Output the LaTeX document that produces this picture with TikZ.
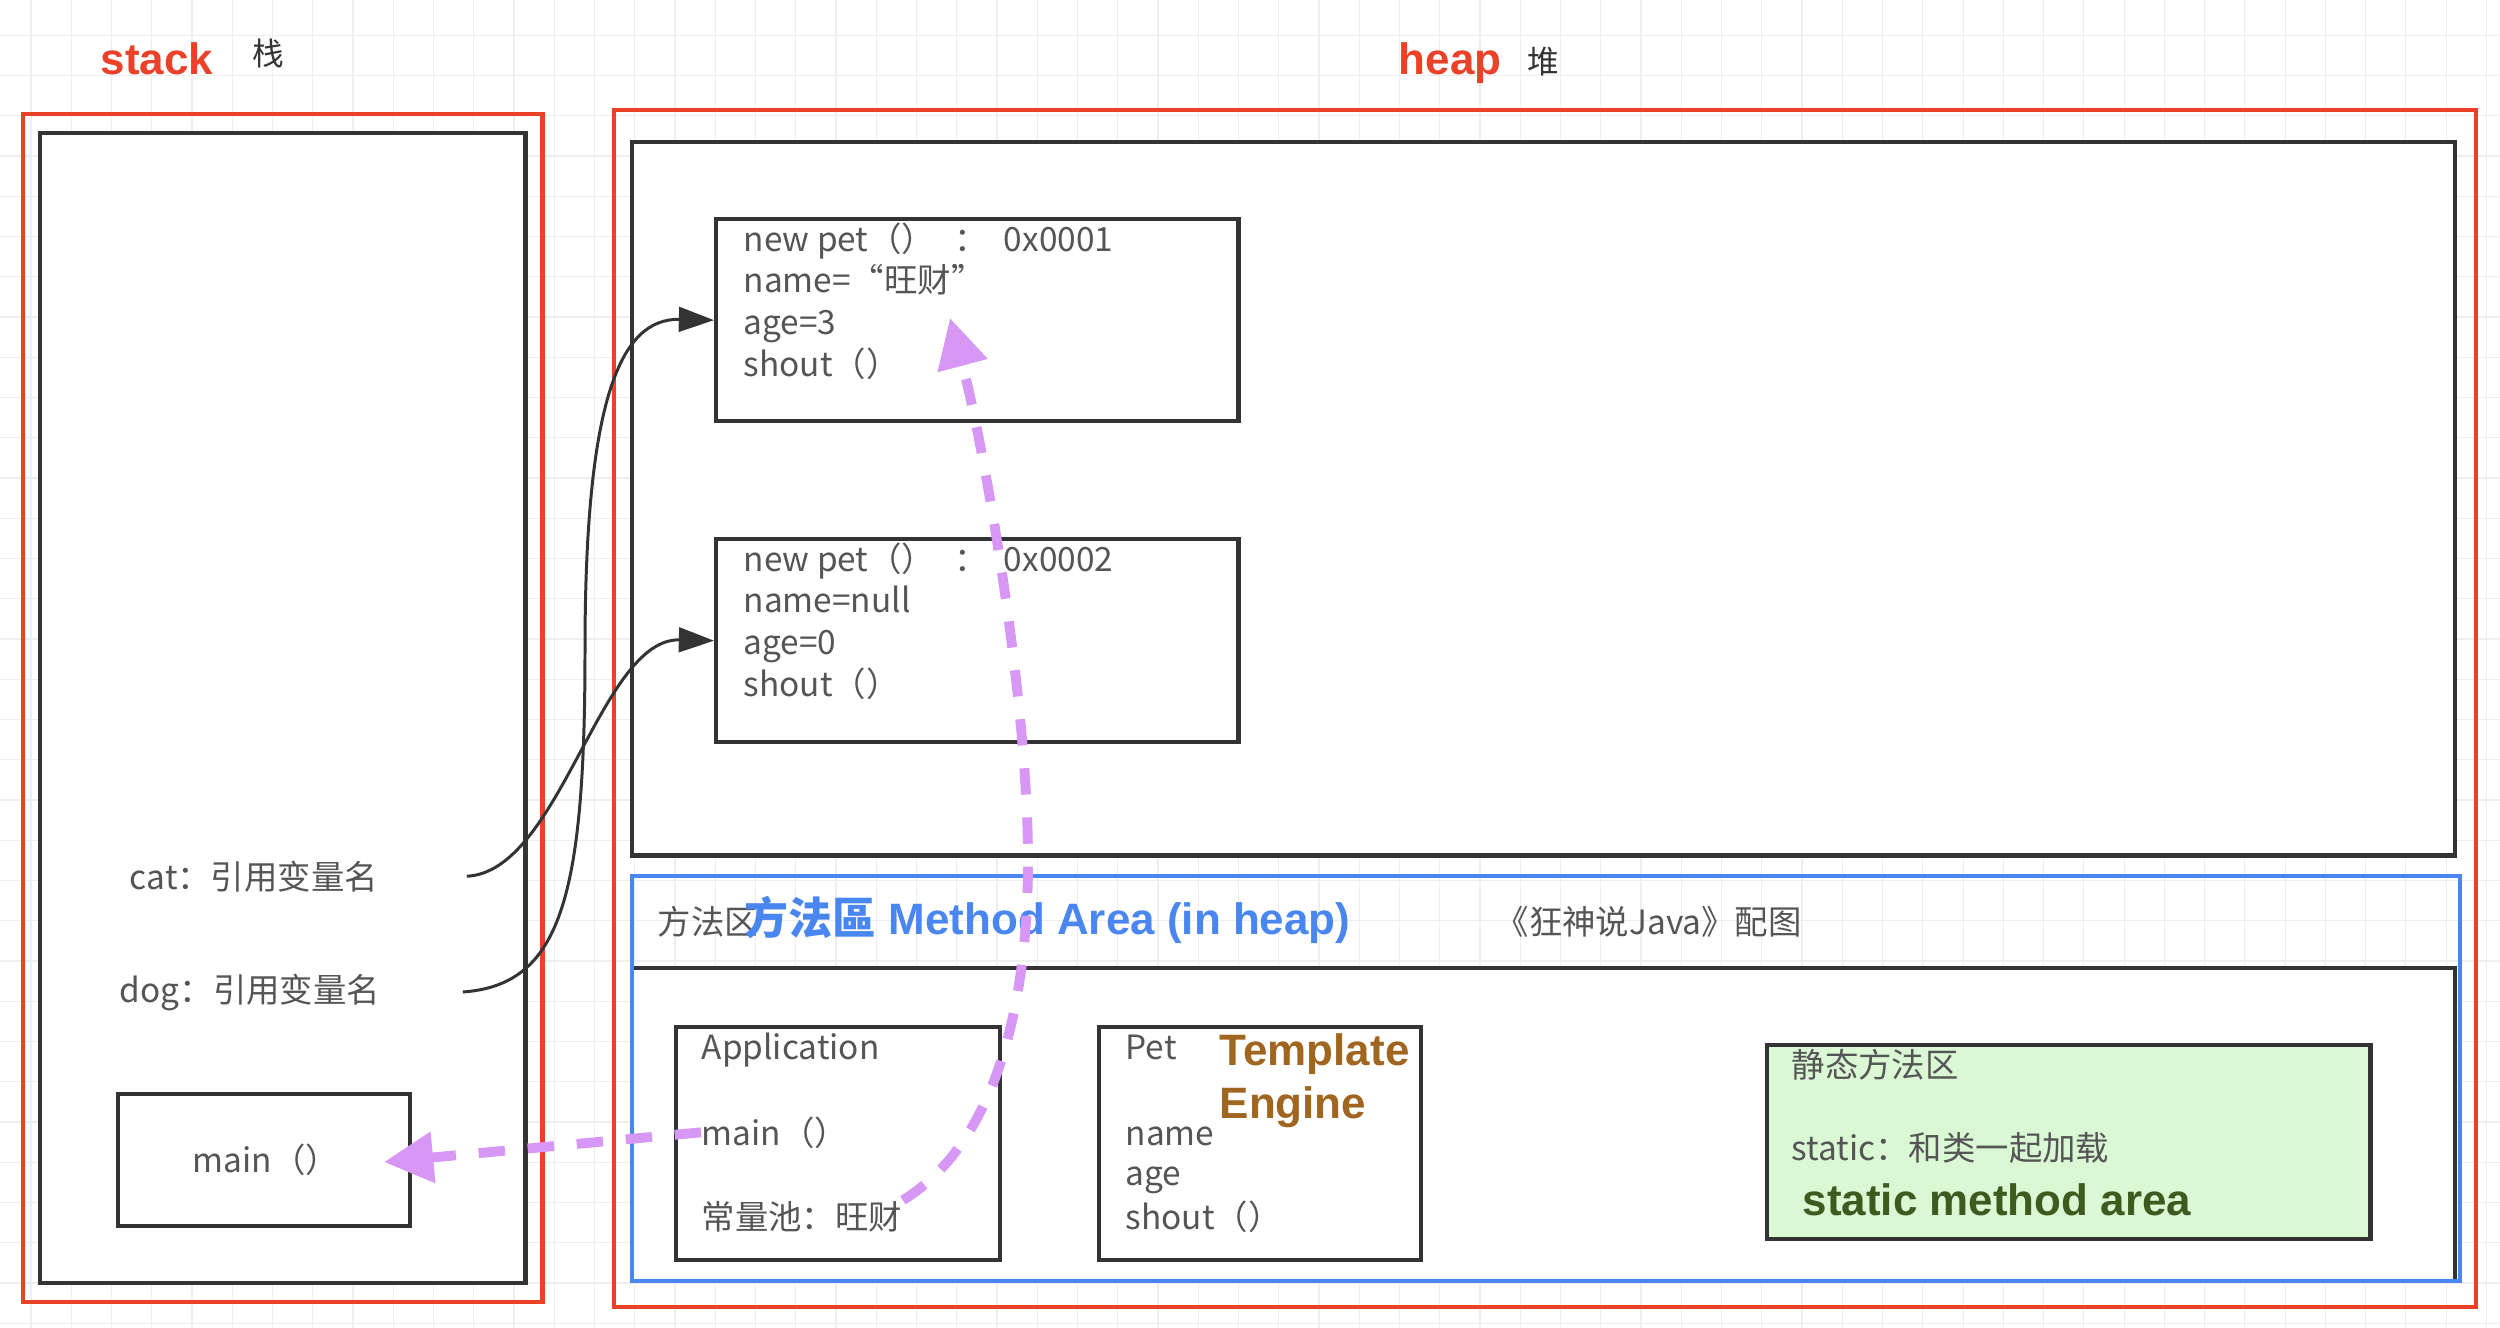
\documentclass[tikz,border=0pt]{standalone}
\usepackage{fontspec}
\setmainfont{Liberation Sans}
\newfontfamily\cjk{Noto Sans CJK SC}
\usetikzlibrary{arrows.meta}
\definecolor{redc}{HTML}{EA4128}
\definecolor{darkc}{HTML}{333333}
\definecolor{bluec}{HTML}{4A86F0}
\definecolor{purc}{HTML}{D797F5}
\definecolor{greenf}{HTML}{DBF8D5}
\definecolor{greent}{HTML}{3D5A1F}
\definecolor{brownt}{HTML}{A0651F}
\definecolor{txtc}{HTML}{555555}
\definecolor{gridc}{HTML}{EEEEEE}
\begin{document}
\begin{tikzpicture}[x=0.01cm,y=-0.01cm,
  redbox/.style={draw=redc, line width=1.2pt, inner sep=0pt, anchor=north west},
  darkbox/.style={draw=darkc, fill=white, line width=1.2pt, inner sep=0pt, anchor=north west},
  bluebox/.style={draw=bluec, line width=1.2pt, inner sep=0pt, anchor=north west},
  txt/.style={text=txtc, font=\cjk\fontsize{9.5pt}{11.8pt}\selectfont, inner sep=0pt, anchor=base west},
  big/.style={font=\fontsize{12.5pt}{15pt}\selectfont\bfseries, inner sep=0pt, anchor=base west},
  darkarrow/.style={draw=darkc, line width=0.85pt, -{Triangle[length=10pt,width=7pt]}},
  purarrow/.style={draw=purc, line width=2.8pt, dash pattern=on 7.5pt off 6.5pt, -{Triangle[length=14pt,width=14pt]}}
]
\useasboundingbox (0,0) rectangle (2500,1328);
\fill[white] (0,0) rectangle (2500,1328);
\foreach \i in {0,...,61} \draw[gridc, line width=0.3pt] ({31+40.25*\i},0) -- ++(0,1328);
\foreach \j in {0,...,32} \draw[gridc, line width=0.3pt] (0,{35.25+40.25*\j}) -- ++(2500,0);

% titles
\node[big, text=redc] (stackT) at (100,75) {stack};
\node[txt, text=darkc, font=\cjk\fontsize{9pt}{11pt}\selectfont] (stackZh) at (252,66) {栈};
\node[big, text=redc] (heapT) at (1398,75) {heap};
\node[txt, text=darkc, font=\cjk\fontsize{9pt}{11pt}\selectfont] (heapZh) at (1527,74) {堆};

% containers
\node[redbox, minimum width=5.19cm, minimum height=11.87cm] (stackOut) at (21,112) {};
\node[darkbox, minimum width=4.85cm, minimum height=11.49cm] (stackIn) at (38,131) {};
\node[redbox, minimum width=18.61cm, minimum height=11.96cm] (heapOut) at (612,108) {};
\node[darkbox, minimum width=18.22cm, minimum height=7.13cm] (heapIn) at (630,140) {};
\node[darkbox, minimum width=18.22cm, minimum height=3.13cm] (methIn) at (630,966) {};
\node[bluebox, minimum width=18.27cm, minimum height=4.05cm] (methOut) at (630,874) {};

% objects
\node[darkbox, minimum width=5.22cm, minimum height=2.02cm] (box1) at (714,217) {};
\node[darkbox, minimum width=5.22cm, minimum height=2.03cm] (box2) at (714,537) {};
\node[darkbox, minimum width=3.24cm, minimum height=2.33cm] (appBox) at (674,1025) {};
\node[darkbox, minimum width=3.22cm, minimum height=2.33cm] (petBox) at (1097,1025) {};
\node[darkbox, fill=greenf, minimum width=6.03cm, minimum height=1.94cm] (staticBox) at (1765,1043) {};
\node[darkbox, minimum width=2.92cm, minimum height=1.32cm] (mainBox) at (116,1092) {};

% box1 text
\node[txt] (b1a) at (743,252) {\makebox[60pt][l]{new pet（）}\makebox[14pt][l]{：}0x0001};
\node[txt] (b1b) at (743,293) {name=“旺财”};
\node[txt] (b1c) at (743,335) {age=3};
\node[txt] (b1d) at (743,377) {shout（）};
% box2 text
\node[txt] (b2a) at (743,572) {\makebox[60pt][l]{new pet（）}\makebox[14pt][l]{：}0x0002};
\node[txt] (b2b) at (743,613) {name=null};
\node[txt] (b2c) at (743,655) {age=0};
\node[txt] (b2d) at (743,696) {shout（）};

% stack text
\node[txt, anchor=base, minimum width=4.24cm] (cat) at (254,889) {cat：引用变量名};
\node[txt, anchor=base, minimum width=4.24cm] (dog) at (250,1002) {dog：引用变量名};
\node[txt] (mainTxt) at (192,1172) {main（）};
\coordinate (mainTip) at (384,1162);

% method area
\node[txt] (maZh) at (657,934) {方法区};
\node[big, text=bluec] (maT) at (744,934) {{\cjk\bfseries 方法區} Method Area (in heap)};
\node[txt] (credit) at (1495,934) {《狂神说Java》配图};

\node[txt] (appT) at (701,1059) {Application};
\node[txt] (appMain) at (701,1145) {main（）};
\node[txt] (pool) at (701,1229) {常量池：旺财};

\node[txt] (petT) at (1125,1059) {Pet};
\node[txt] (petN) at (1125,1145) {name};
\node[txt] (petA) at (1125,1185) {age};
\node[txt] (petS) at (1125,1229) {shout（）};
\node[big, text=brownt] (tmpl) at (1219,1065) {Template};
\node[big, text=brownt] (eng) at (1219,1118) {Engine};

\node[txt] (stT) at (1791,1077) {静态方法区};
\node[txt] (stL) at (1791,1160) {static：和类一起加载};
\node[big, text=greent] (stE) at (1802,1215) {static method area};

\coordinate (wcTip) at (950,318);

% connectors
\draw[darkarrow] (dog.east) .. controls (560,985) and (585,900) .. (585,650) .. controls (585,400) and (620,318) .. (box1.west);
\draw[darkarrow] (cat.east) .. controls (560,872) and (600,638) .. (box2.west);
\draw[purarrow] (pool.north east) .. controls (985,1150) and (1028,1030) .. (1028,860) .. controls (1028,700) and (985,450) .. (wcTip);
\draw[purarrow] (appMain.west) -- (mainTip);
\end{tikzpicture}
\end{document}
